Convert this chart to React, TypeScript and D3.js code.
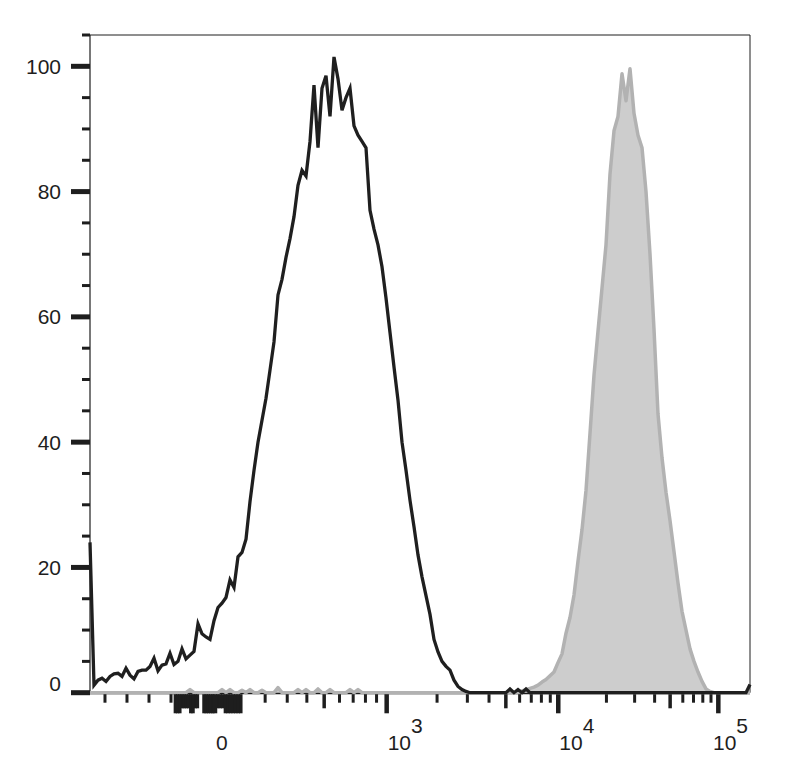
import * as d3 from 'd3';

const W = 787;
const H = 780;
const PLOT = { left: 90, right: 750, top: 35, bottom: 692.7 };

// FlowJo style histogram: one value per display channel across the x axis (% of mode)
const BINS = 166;

const blackCounts = [
  24, 1.2, 2.0, 2.3, 1.8, 2.6, 3.0, 3.1, 2.6, 3.9,
  2.8, 2.2, 3.4, 3.6, 3.6, 4.2, 5.5, 3.5, 4.4, 4.6,
  6.3, 4.5, 5.0, 7.0, 5.4, 6.0, 6.6, 11.0, 9.4, 8.9,
  8.5, 11.5, 13.6, 14.3, 15.2, 18.0, 16.8, 21.7, 22.4, 24.5,
  30.5, 35.5, 40.0, 43.5, 47.0, 51.5, 56.0, 63.5, 66.0, 69.5,
  72.5, 76.0, 81.0, 83.4, 82.5, 88.0, 97.0, 87.0, 96.5, 98.5,
  92.0, 101.5, 98.0, 93.0, 95.0, 96.5, 90.5, 89.0, 88.0, 87.0,
  77.0, 74.0, 71.5, 68.0, 63.0, 57.5, 52.0, 46.7, 40.0, 35.5,
  30.7, 26.5, 22.0, 18.5, 15.5, 12.5, 8.5, 6.5, 5.0, 4.2,
  3.6, 2.0, 1.0, 0.5, 0.2, 0, 0, 0, 0, 0,
  0, 0, 0, 0, 0, 0.6, 0, 0.5, 0, 0.6,
  0, 0, 0, 0, 0, 0, 0, 0, 0, 0,
  0, 0, 0, 0, 0, 0, 0, 0, 0, 0,
  0, 0, 0, 0, 0, 0, 0, 0, 0, 0,
  0, 0, 0, 0, 0, 0, 0, 0, 0, 0,
  0, 0, 0, 0, 0, 0, 0, 0, 0, 0,
  0, 0, 0, 0, 0, 1.3,
];

const grayCounts = [
  0, 0, 0, 0, 0, 0, 0, 0, 0, 0,
  0, 0, 0, 0, 0, 0, 0, 0, 0, 0,
  0, 0, 0, 0, 0, 0.5, 0, 0, 0, 0,
  0, 0, 0, 0.5, 0, 0.5, 0, 0, 0.4, 0,
  0.5, 0, 0, 0.4, 0, 0, 0, 0.8, 0, 0,
  0, 0, 0.5, 0, 0.5, 0, 0, 0.6, 0, 0,
  0.5, 0, 0, 0, 0, 0.5, 0, 0.5, 0, 0,
  0, 0, 0, 0, 0, 0, 0, 0, 0, 0,
  0, 0, 0, 0, 0, 0, 0, 0, 0, 0,
  0, 0, 0, 0, 0, 0, 0, 0, 0, 0,
  0, 0, 0, 0, 0, 0, 0, 0, 0.3, 0.5,
  0.7, 0.9, 1.2, 1.7, 2.1, 2.7, 3.3, 4.8, 6.2, 9.5,
  12.0, 15.6, 21.0, 26.0, 32.3, 41.4, 50.7, 57.7, 64.6, 71.5,
  82.8, 89.7, 92.0, 98.8, 94.5, 99.6, 92.5, 89.0, 87.0, 80.0,
  70.0, 58.0, 44.5, 37.5, 32.0, 27.5, 22.5, 17.5, 13.0, 10.0,
  7.0, 5.0, 3.3, 1.8, 0.6, 0.2, 0, 0, 0, 0,
  0, 0, 0, 0, 0, 0,
];

// y axis
const yMajorTicks = [0, 20, 40, 60, 80, 100];
const yMinorTicks = [5, 10, 15, 25, 30, 35, 45, 50, 55, 65, 70, 75, 85, 90, 95, 105];
const yLabels = ['0', '20', '40', '60', '80', '100'];

// x axis (biexponential display)
const xMajorTicks = [0, 1e3, 1e4, 1e5];
const xLabelBase = ['0', '10', '10', '10'];
const xLabelExp = ['', '3', '4', '5'];
// dense linear-region ticks around zero
const xLongTicks = [-180, -170, -160, -110, -100, -50, -40, -30, -20, -10, 40, 50, 60, 70, 80, 90, 100];
const xMediumTicks = [-150, -140, -130, -120, -90, -80, 10, 20, 30, 500, 5e3, 5e4];
const xMinorTicks = [
  -500, -400, -300, -200,
  200, 300, 400, 600, 700, 800, 900,
  2e3, 3e3, 4e3, 6e3, 7e3, 8e3, 9e3,
  2e4, 3e4, 4e4, 6e4, 7e4, 8e4, 9e4,
];
// decade anchors of the axis (value -> fraction of the plot width)
const AXIS_VALUES = [-500, 0, 1e3, 1e4, 1e5];
const AXIS_STOPS = [0.0227, 0.1894, 0.4495, 0.7095, 0.952];

const FONT = "'Liberation Sans', Arial, Helvetica, sans-serif";
const INK = '#1e1e1e';

export default function App() {
  // linear below zero, arcsinh above
  const u = (v: number) => (v < 0 ? v / 400 : Math.asinh(v / 400));
  const plotW = PLOT.right - PLOT.left;

  const xBiex = d3.scaleLinear()
    .domain(AXIS_VALUES.map(u))
    .range(AXIS_STOPS.map((f) => PLOT.left + f * plotW));
  const xPos = (v: number) => xBiex(u(v));

  const xChan = d3.scaleLinear().domain([0, BINS - 1]).range([PLOT.left, PLOT.right]);
  const y = d3.scaleLinear().domain([0, 105]).range([PLOT.bottom, PLOT.top]);

  const line = d3.line<number>()
    .x((_, i) => xChan(i))
    .y((d) => y(d));
  const area = d3.area<number>()
    .x((_, i) => xChan(i))
    .y0(y(0))
    .y1((d) => y(d));

  const inPlot = (v: number) => xPos(v) >= PLOT.left && xPos(v) <= PLOT.right;
  const tickTop = y(0) + 1.5;

  const xTick = (v: number, end: number, w: number, key: string) => (
    <line key={key} x1={xPos(v)} x2={xPos(v)} y1={tickTop} y2={end} stroke={INK} strokeWidth={w} />
  );

  return (
    <svg
      width={W}
      height={H}
      style={{ position: 'absolute', left: 0, top: 0, background: '#fff' }}
    >
      <rect x={0} y={0} width={W} height={H} fill="#fff" />

      {/* frame */}
      <line x1={PLOT.left} x2={PLOT.right} y1={PLOT.top} y2={PLOT.top} stroke={INK} strokeWidth={1} />
      <line x1={PLOT.right} x2={PLOT.right} y1={PLOT.top} y2={y(0)} stroke={INK} strokeWidth={1} />
      <line x1={PLOT.left} x2={PLOT.left} y1={PLOT.top} y2={y(0)} stroke={INK} strokeWidth={1.2} />
      <line x1={PLOT.left} x2={PLOT.right} y1={y(0)} y2={y(0)} stroke={INK} strokeWidth={3} />

      {/* gray histogram */}
      <path d={area(grayCounts) ?? ''} fill="#cdcdcd" />
      <path d={line(grayCounts) ?? ''} fill="none" stroke="#b2b2b2" strokeWidth={3.5} strokeLinejoin="round" />

      {/* black histogram */}
      <path d={line(blackCounts) ?? ''} fill="none" stroke="#1f1f1f" strokeWidth={3.3} strokeLinejoin="miter" />

      {/* y ticks */}
      {yMinorTicks.map((v) => (
        <line key={`ym${v}`} x1={82} x2={PLOT.left} y1={y(v)} y2={y(v)} stroke={INK} strokeWidth={3} />
      ))}
      {yMajorTicks.map((v, i) => (
        <g key={`yM${v}`}>
          <line x1={71} x2={PLOT.left} y1={y(v)} y2={y(v)} stroke={INK} strokeWidth={5} />
          <text
            x={61}
            y={Math.min(y(v), y(0) - 9)}
            textAnchor="end"
            dominantBaseline="central"
            fontFamily={FONT}
            fontSize={21}
            fill={INK}
          >
            {yLabels[i]}
          </text>
        </g>
      ))}

      {/* x ticks */}
      {xMinorTicks.filter(inPlot).map((v) => xTick(v, 702.7, 3, `xm${v}`))}
      {xMediumTicks.filter(inPlot).map((v) => xTick(v, 708.3, 3.5, `xd${v}`))}
      {xLongTicks.filter(inPlot).map((v) => xTick(v, 713.3, 3.5, `xl${v}`))}
      {xMajorTicks.map((v, i) => {
        const px = xPos(v);
        const labelW = xLabelExp[i] ? 37 : 12;
        const lx = Math.min(px + 1, PLOT.right - labelW);
        return (
          <g key={`xM${v}`}>
            <line x1={px} x2={px} y1={tickTop} y2={713.3} stroke={INK} strokeWidth={4.5} />
            <text x={lx} y={750} fontFamily={FONT} fontSize={21} fill={INK}>
              {xLabelBase[i]}
              {xLabelExp[i] && <tspan dy={-17}>{xLabelExp[i]}</tspan>}
            </text>
          </g>
        );
      })}
    </svg>
  );
}
